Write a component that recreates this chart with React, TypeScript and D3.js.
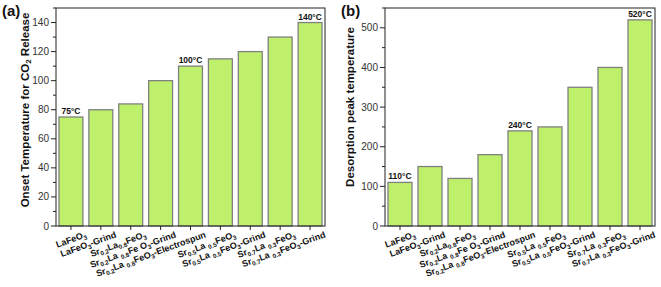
import React from "react";
import * as d3 from "d3";

const categories = [
  "LaFeO_3",
  "LaFeO_3-Grind",
  "Sr_{0.2}La_{0.8}FeO_3",
  "Sr_{0.2}La _{0.8}Fe O_3-Grind",
  "Sr_{0.2}La _{0.8}FeO_3-Electrospun",
  "Sr_{0.5}La _{0.5}FeO_3",
  "Sr_{0.5}La _{0.5}FeO_3-Grind",
  "Sr_{0.7}La _{0.3}FeO_3",
  "Sr_{0.7}La _{0.3}FeO_3-Grind",
];
const onsetValues = [75, 80, 84, 100, 110, 115, 120, 130, 140];
const desorptionValues = [110, 150, 120, 180, 240, 250, 350, 400, 520];
const onsetTicks = [0, 20, 40, 60, 80, 100, 120, 140];
const onsetMinor = [10, 30, 50, 70, 90, 110, 130, 150];
const desorptionTicks = [0, 100, 200, 300, 400, 500];
const desorptionMinor = [50, 150, 250, 350, 450, 550];
const onsetAnnotated = [0, 4, 8];
const onsetAnnotations = ["75°C", "100°C", "140°C"];
const desorptionAnnotated = [0, 4, 8];
const desorptionAnnotations = ["110°C", "240°C", "520°C"];
const onsetTitle = "Onset Temperature for CO_2 Release";
const desorptionTitle = "Desorption peak temperature";

const FONT = "'Liberation Sans', Arial, Helvetica, sans-serif";
const BAR_FILL = "#bff06c";
const BAR_STROKE = "#808080";

type Part = { t: string; sub: boolean };
function parseLabel(s: string): Part[] {
  const parts: Part[] = [];
  let i = 0;
  let buf = "";
  while (i < s.length) {
    if (s[i] === "_") {
      if (buf) parts.push({ t: buf, sub: false });
      buf = "";
      i++;
      if (s[i] === "{") {
        const j = s.indexOf("}", i);
        parts.push({ t: s.slice(i + 1, j), sub: true });
        i = j + 1;
      } else {
        parts.push({ t: s[i], sub: true });
        i++;
      }
    } else {
      buf += s[i];
      i++;
    }
  }
  if (buf) parts.push({ t: buf, sub: false });
  return parts;
}

function RichText({ parts, size, subSize, shift }: { parts: Part[]; size: number; subSize: number; shift: number }) {
  const out: React.ReactNode[] = [];
  let cur = 0;
  parts.forEach((p, k) => {
    const target = p.sub ? shift : 0;
    const dy = target - cur;
    cur = target;
    out.push(
      <tspan key={k} dy={dy} fontSize={p.sub ? subSize : size}>
        {p.t}
      </tspan>
    );
  });
  return <>{out}</>;
}

type PanelProps = {
  left: number;
  right: number;
  top: number;
  bottom: number;
  yMax: number;
  ticks: number[];
  minor: number[];
  values: number[];
  annotated: number[];
  annotations: string[];
  title: string;
  titleX: number;
  titleY: number;
  label: string;
  labelX: number;
};

function Panel(p: PanelProps) {
  const x = d3
    .scaleBand<string>()
    .domain(categories)
    .range([p.left, p.right])
    .paddingInner(0.2)
    .paddingOuter(0.1);
  const y = d3.scaleLinear().domain([0, p.yMax]).range([p.bottom, p.top]);
  const bw = x.bandwidth();
  return (
    <g fontFamily={FONT}>
      {p.values.map((v, i) => (
        <rect
          key={i}
          x={x(categories[i]) as number}
          y={y(v)}
          width={bw}
          height={y(0) - y(v)}
          fill={BAR_FILL}
          stroke={BAR_STROKE}
          strokeWidth={1.3}
        />
      ))}
      {p.annotated.map((i, k) => (
        <text
          key={"a" + i}
          x={(x(categories[i]) as number) + bw / 2}
          y={y(p.values[i]) - 3}
          textAnchor="middle"
          fontSize={8.5}
          fontWeight="bold"
          fill="#111"
        >
          {p.annotations[k]}
        </text>
      ))}
      <rect
        x={p.left}
        y={p.top}
        width={p.right - p.left}
        height={p.bottom - p.top}
        fill="none"
        stroke="#222"
        strokeWidth={1}
      />
      {p.ticks.map((t) => (
        <g key={"t" + t}>
          <line x1={p.left - 5} x2={p.left} y1={y(t)} y2={y(t)} stroke="#222" strokeWidth={1} />
          <text x={p.left - 7} y={y(t) + 3.5} textAnchor="end" fontSize={10} fill="#333">
            {t}
          </text>
        </g>
      ))}
      {p.minor.map((t) => (
        <line key={"m" + t} x1={p.left - 3} x2={p.left} y1={y(t)} y2={y(t)} stroke="#222" strokeWidth={1} />
      ))}
      {categories.map((c, i) => {
        const cx = (x(c) as number) + bw / 2;
        const ax = cx + 16;
        const ay = p.bottom + 11;
        return (
          <g key={"x" + i}>
            <line x1={cx} x2={cx} y1={p.bottom} y2={p.bottom + 4} stroke="#222" strokeWidth={1} />
            <text
              x={ax}
              y={ay}
              textAnchor="end"
              fontWeight="bold"
              fontSize={9}
              fill="#111"
              transform={`rotate(-20 ${ax} ${ay})`}
            >
              <RichText parts={parseLabel(c)} size={9} subSize={6.3} shift={2.2} />
            </text>
          </g>
        );
      })}
      <text
        x={p.titleX}
        y={p.titleY}
        textAnchor="middle"
        fontWeight="bold"
        fontSize={11.5}
        fill="#111"
        transform={`rotate(-90 ${p.titleX} ${p.titleY})`}
        dominantBaseline="middle"
      >
        <RichText parts={parseLabel(p.title)} size={11.5} subSize={8} shift={3} />
      </text>
      <text x={p.labelX} y={16} fontWeight="bold" fontSize={15} fill="#111">
        {p.label}
      </text>
    </g>
  );
}

export default function App() {
  return (
    <svg
      width={661}
      height={287}
      viewBox="0 0 661 287"
      style={{ position: "absolute", left: 0, top: 0, background: "#fff" }}
    >
      <rect x={0} y={0} width={661} height={287} fill="#fff" />
      <Panel
        left={56}
        right={325}
        top={8}
        bottom={226}
        yMax={150}
        ticks={onsetTicks}
        minor={onsetMinor}
        values={onsetValues}
        annotated={onsetAnnotated}
        annotations={onsetAnnotations}
        title={onsetTitle}
        titleX={26}
        titleY={110}
        label="(a)"
        labelX={2}
      />
      <Panel
        left={385}
        right={655}
        top={8}
        bottom={226}
        yMax={550}
        ticks={desorptionTicks}
        minor={desorptionMinor}
        values={desorptionValues}
        annotated={desorptionAnnotated}
        annotations={desorptionAnnotations}
        title={desorptionTitle}
        titleX={351}
        titleY={107}
        label="(b)"
        labelX={341}
      />
    </svg>
  );
}
